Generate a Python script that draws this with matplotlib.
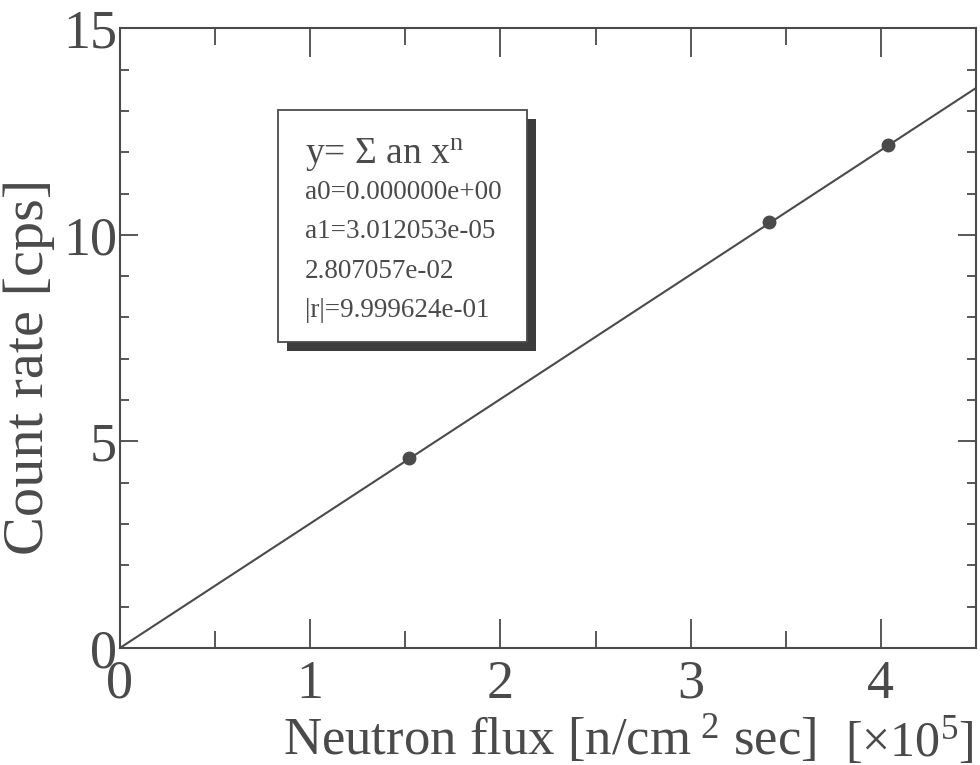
import matplotlib.pyplot as plt
from matplotlib.patches import Rectangle
from matplotlib.ticker import MultipleLocator
import numpy as np

# data (flux in units of 1e5 n/cm2 sec)
flux = [1.52, 3.41, 4.04]
rate = [4.60, 10.30, 12.18]
a0 = 0.0
a1 = 3.012053e-05 * 1e5   # slope per 1e5 flux
fitText = ["a0=0.000000e+00", "a1=3.012053e-05", "2.807057e-02", "|r|=9.999624e-01"]

ink = "#4a4a4a"
plt.rcParams['font.family'] = ['Liberation Serif', 'DejaVu Serif']
plt.rcParams['mathtext.fontset'] = 'custom'
plt.rcParams['mathtext.rm'] = 'Liberation Serif'
plt.rcParams['mathtext.it'] = 'Liberation Serif'

fig = plt.figure(figsize=(9.8, 7.65), dpi=100)
ax = fig.add_axes([0.1224, 0.153, 0.8735, 0.810])

# fit line
xs = np.array([0, 4.5])
ax.plot(xs, a0 + a1*xs, color=ink, lw=1.5, zorder=2)
ax.plot(flux, rate, 'o', color=ink, ms=9, zorder=3)

ax.set_xlim(0, 4.5)
ax.set_ylim(0, 15)
ax.xaxis.set_major_locator(MultipleLocator(1))
ax.xaxis.set_minor_locator(MultipleLocator(0.5))
ax.yaxis.set_major_locator(MultipleLocator(5))
ax.yaxis.set_minor_locator(MultipleLocator(1))
ax.tick_params(which='both', direction='in', top=True, right=True, colors=ink,
               width=1.3, labelsize=39)
ax.tick_params(axis='x', which='major', length=21, pad=8)
ax.tick_params(axis='x', which='minor', length=12)
ax.tick_params(axis='y', which='major', length=13, pad=2)
ax.tick_params(axis='y', which='minor', length=6.5)
for s in ax.spines.values():
  s.set_color(ink)
  s.set_linewidth(1.5)

ax.set_ylabel("Count rate [cps]", fontsize=42, color=ink)
ax.yaxis.set_label_coords(-0.076, 0.453)
fig.text(0.289, 0.012, "Neutron flux [n/cm$^{\\ 2}$ sec]", fontsize=38, color=ink)
fig.text(0.862, 0.012, "[\u00d710$^{5}$]", fontsize=36, color=ink)

# parameter box with shadow
bx, by, bw, bh = 0.1846, 0.4935, 0.291, 0.374
ax.add_patch(Rectangle((bx+0.010, by-0.014), bw, bh, transform=ax.transAxes,
                       facecolor="#3c3c3c", edgecolor='none', zorder=4))
ax.add_patch(Rectangle((bx, by), bw, bh, transform=ax.transAxes,
                       facecolor='white', edgecolor=ink, lw=1.3, zorder=5))
ax.text(bx+0.031, 0.795, "y= \u03a3 an x$^{\\mathrm{n}}$", transform=ax.transAxes,
        fontsize=27, color=ink, va='center', zorder=6)
for i, t in enumerate(fitText):
  ax.text(bx+0.031, 0.735-i*0.0635, t, transform=ax.transAxes,
          fontsize=19.5, color=ink, va='center', zorder=6)

fig.savefig("out.png", dpi=100)
